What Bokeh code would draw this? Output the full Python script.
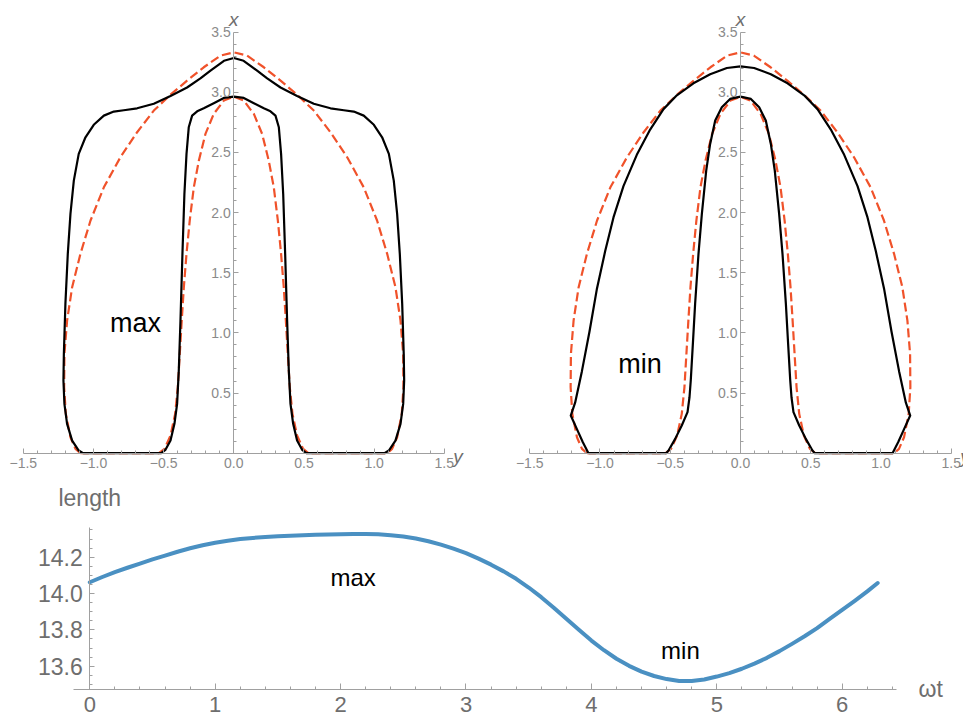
import numpy as np
from bokeh.plotting import figure
from bokeh.models import LinearAxis, FixedTicker, CustomJSTickFormatter, Range1d, Label
from bokeh.layouts import column, row
from bokeh.embed import file_html
from bokeh.resources import INLINE

# ---------------- data (right halves of the symmetric profiles, top -> bottom) ----------------
# reference shape (red dashed), shown in both panels
ref_outer_y = [0.0, 0.095, 0.214, 0.333, 0.451, 0.570, 0.689, 0.808, 0.926, 1.021, 1.093, 1.152, 1.188, 1.207, 1.209, 1.197, 1.164, 1.128, 1.093]
ref_outer_x = [3.332, 3.305, 3.208, 3.097, 2.980, 2.848, 2.668, 2.460, 2.210, 1.934, 1.657, 1.380, 1.102, 0.825, 0.548, 0.327, 0.133, 0.036, 0.0]
ref_inner_y = [0.0, 0.071, 0.143, 0.202, 0.249, 0.285, 0.314, 0.337, 0.356, 0.371, 0.385, 0.399, 0.418, 0.451, 0.494, 0.534]
ref_inner_x = [2.964, 2.931, 2.820, 2.654, 2.432, 2.210, 1.934, 1.657, 1.380, 1.102, 0.825, 0.548, 0.327, 0.147, 0.036, 0.0]

# shape at maximum length
max_outer_y = [0.0, 0.070, 0.166, 0.238, 0.333, 0.451, 0.570, 0.689, 0.784, 0.855, 0.926, 0.998, 1.057, 1.105, 1.140, 1.164, 1.183, 1.200, 1.211, 1.214, 1.207, 1.188, 1.152, 1.105, 1.074]
max_outer_x = [3.285, 3.262, 3.180, 3.115, 3.040, 2.970, 2.905, 2.867, 2.851, 2.840, 2.806, 2.730, 2.626, 2.488, 2.266, 1.989, 1.657, 1.241, 0.825, 0.604, 0.410, 0.244, 0.105, 0.022, 0.0]
max_inner_y = [0.0, 0.071, 0.143, 0.214, 0.261, 0.297, 0.321, 0.337, 0.352, 0.366, 0.380, 0.392, 0.404, 0.423, 0.451, 0.487, 0.518]
max_inner_x = [2.964, 2.953, 2.909, 2.867, 2.842, 2.806, 2.709, 2.488, 2.155, 1.657, 1.102, 0.687, 0.410, 0.244, 0.105, 0.028, 0.0]

# shape at minimum length
min_outer_y = [0.0, 0.097, 0.216, 0.335, 0.453, 0.548, 0.643, 0.738, 0.833, 0.904, 0.963, 1.023, 1.075, 1.129, 1.177, 1.208, 1.165, 1.122, 1.082]
min_outer_x = [3.216, 3.202, 3.150, 3.075, 2.975, 2.860, 2.690, 2.480, 2.220, 1.960, 1.680, 1.360, 1.010, 0.680, 0.420, 0.313, 0.202, 0.091, 0.0]
min_inner_y = [0.0, 0.074, 0.133, 0.180, 0.216, 0.244, 0.275, 0.299, 0.323, 0.339, 0.354, 0.363, 0.377, 0.418, 0.465, 0.512, 0.529]
min_inner_x = [2.964, 2.945, 2.875, 2.765, 2.571, 2.349, 1.989, 1.657, 1.241, 0.909, 0.604, 0.465, 0.341, 0.230, 0.119, 0.022, 0.0]

# length over one period
wt = [0.0, 0.1, 0.2, 0.3, 0.4, 0.5, 0.6, 0.7, 0.8, 0.9, 1.0, 1.1, 1.2, 1.3, 1.4, 1.5, 1.6, 1.7, 1.8, 1.9,
      2.0, 2.1, 2.2, 2.3, 2.4, 2.5, 2.6, 2.7, 2.8, 2.9, 3.0, 3.1, 3.2, 3.3, 3.4, 3.5, 3.6, 3.7, 3.8, 3.9,
      4.0, 4.1, 4.2, 4.3, 4.4, 4.5, 4.6, 4.7, 4.8, 4.9, 5.0, 5.1, 5.2, 5.3, 5.4, 5.5, 5.6, 5.7, 5.8, 5.9,
      6.0, 6.1, 6.2, 6.283]
length = [14.062, 14.091, 14.118, 14.142, 14.165, 14.188, 14.209, 14.230, 14.249, 14.266,
          14.280, 14.291, 14.300, 14.306, 14.311, 14.315, 14.318, 14.321, 14.323, 14.325,
          14.327, 14.328, 14.328, 14.326, 14.321, 14.314, 14.303, 14.288, 14.269, 14.247,
          14.222, 14.192, 14.159, 14.122, 14.081, 14.033, 13.980, 13.922, 13.861, 13.800,
          13.741, 13.688, 13.641, 13.602, 13.570, 13.546, 13.529, 13.518, 13.518, 13.527,
          13.543, 13.562, 13.586, 13.614, 13.646, 13.683, 13.723, 13.765, 13.810, 13.860,
          13.910, 13.960, 14.012, 14.058]

# tick labels
shape_xticks = [-1.5, -1.0, -0.5, 0.0, 0.5, 1.0, 1.5]
shape_yticks = [0.5, 1.0, 1.5, 2.0, 2.5, 3.0, 3.5]
len_xticks = [0, 1, 2, 3, 4, 5, 6]
len_yticks = [13.6, 13.8, 14.0, 14.2]

# ---------------- styling ----------------
FONT = "Liberation Sans"
AXIS_GRAY = "#a0a0a0"
TICK_GRAY = "#8a8a8a"
LABEL_GRAY = "#6e6e6e"
RED = "#f0522a"
BLUE = "#4a90c2"

TOP_H = 476
BOT_H = 723 - TOP_H


def closed_contour(oy, ox, iy, ix):
    oy, ox, iy, ix = map(np.asarray, (oy, ox, iy, ix))
    outer_y = np.concatenate([-oy[::-1], oy[1:]])
    outer_x = np.concatenate([ox[::-1], ox[1:]])
    inner_y = np.concatenate([-iy[::-1], iy[1:]])
    inner_x = np.concatenate([ix[::-1], ix[1:]])
    ys = np.concatenate([outer_y, inner_y[::-1], outer_y[:1]])
    xs = np.concatenate([outer_x, inner_x[::-1], outer_x[:1]])
    return ys, xs


minor_x = [round(v, 2) for v in np.arange(-1.5, 1.51, 0.1) if abs(v * 2 - round(v * 2)) > 1e-6]
minor_y = [round(v, 2) for v in np.arange(0.1, 3.51, 0.1) if abs(v * 2 - round(v * 2)) > 1e-6]

fmt_signed = CustomJSTickFormatter(code="""
return (tick < -1e-9 ? '\\u2212' : '') + Math.abs(tick).toFixed(1);
""")


def bare_figure(width, height, xr, yr):
    p = figure(width=width, height=height, output_backend="svg", toolbar_location=None,
               x_range=Range1d(*xr), y_range=Range1d(*yr),
               x_axis_location=None, y_axis_location=None,
               min_border_left=0, min_border_right=0, min_border_top=0, min_border_bottom=0)
    p.grid.visible = False
    p.outline_line_color = None
    p.background_fill_color = "white"
    p.border_fill_color = "white"
    return p


def style_axis(ax, tick_in, minor_in, color, size):
    ax.axis_line_color = AXIS_GRAY
    ax.major_tick_line_color = AXIS_GRAY
    ax.minor_tick_line_color = AXIS_GRAY
    ax.major_tick_in = tick_in
    ax.major_tick_out = 0
    ax.minor_tick_in = minor_in
    ax.minor_tick_out = 0
    ax.major_label_text_color = color
    ax.major_label_text_font = FONT
    ax.major_label_text_font_size = size


def shape_panel(width, xr, oy, ox, iy, ix, tag, tag_pos):
    # frame covers the whole canvas; ranges chosen so that -1.5..1.5 / 0..3.5 sit as in the original
    p = bare_figure(width, TOP_H, xr, (-(TOP_H - 452.7) / 120.3, 3.763))

    xa = LinearAxis(fixed_location=0, bounds=(-1.5, 1.5),
                    ticker=FixedTicker(ticks=shape_xticks, minor_ticks=minor_x),
                    formatter=fmt_signed)
    ya = LinearAxis(fixed_location=0, bounds=(0, 3.5),
                    ticker=FixedTicker(ticks=shape_yticks, minor_ticks=minor_y),
                    formatter=fmt_signed)
    style_axis(xa, 5, 3, TICK_GRAY, "14px")
    style_axis(ya, 5, 3, TICK_GRAY, "14px")
    xa.major_label_standoff = 5
    ya.major_label_standoff = 3
    p.add_layout(xa, "below")
    p.add_layout(ya, "left")

    ry, rx = closed_contour(ref_outer_y, ref_outer_x, ref_inner_y, ref_inner_x)
    p.line(ry, rx, line_color=RED, line_width=2.2, line_dash="9 4")
    sy, sx = closed_contour(oy, ox, iy, ix)
    p.line(sy, sx, line_color="black", line_width=2.2, line_join="round")

    p.add_layout(Label(x=0, y=3.5, text="x", text_font=FONT, text_font_style="italic",
                       text_font_size="19px", text_color=LABEL_GRAY, text_align="center",
                       text_baseline="alphabetic", y_offset=13))
    p.add_layout(Label(x=1.5, y=0, text="y", text_font=FONT, text_font_style="italic",
                       text_font_size="19px", text_color=LABEL_GRAY, text_align="left",
                       text_baseline="alphabetic", x_offset=9, y_offset=-3))
    p.add_layout(Label(x=tag_pos[0], y=tag_pos[1], text=tag, text_font=FONT,
                       text_font_size="27px", text_color="black", text_align="center",
                       text_baseline="middle"))
    return p


p1 = shape_panel(480, (-1.6625, 1.758), max_outer_y, max_outer_x, max_inner_y, max_inner_x,
                 "max", (-0.70, 1.08))
p2 = shape_panel(483, (-1.8505, 1.5872), min_outer_y, min_outer_x, min_inner_y, min_inner_x,
                 "min", (-0.715, 0.74))

# ---------------- length panel ----------------
y_top = 14.2 + (556.7 - TOP_H) / 181.67
p3 = bare_figure(963, BOT_H, (-0.7121, 6.9673), (13.2846, y_top))

len_minor_x = [round(v, 1) for v in np.arange(0.2, 6.45, 0.2) if abs(v - round(v)) > 1e-6]
len_minor_y = [round(v, 2) for v in np.arange(13.5, 14.36, 0.05) if abs(v * 5 - round(v * 5)) > 1e-6]

bx = LinearAxis(fixed_location=13.472, bounds=(-0.128, 6.433),
                ticker=FixedTicker(ticks=len_xticks, minor_ticks=len_minor_x),
                formatter=CustomJSTickFormatter(code="return tick.toFixed(0);"))
by = LinearAxis(fixed_location=0, bounds=(13.472, 14.365),
                ticker=FixedTicker(ticks=len_yticks, minor_ticks=len_minor_y),
                formatter=CustomJSTickFormatter(code="return tick.toFixed(1);"))
style_axis(bx, 6, 3, LABEL_GRAY, "22px")
style_axis(by, 5, 3, LABEL_GRAY, "23px")
bx.major_label_standoff = 8
by.major_label_standoff = 7
p3.add_layout(bx, "below")
p3.add_layout(by, "left")

p3.line(wt, length, line_color=BLUE, line_width=4, line_cap="round", line_join="round")

p3.add_layout(Label(x=0, y=14.365, text="length", text_font=FONT, text_font_size="23px",
                    text_color=LABEL_GRAY, text_align="center", text_baseline="alphabetic",
                    y_offset=29))
p3.add_layout(Label(x=6.433, y=13.472, text="ωt", text_font=FONT, text_font_size="23px",
                    text_color=LABEL_GRAY, text_align="left", text_baseline="middle",
                    x_offset=22))
p3.add_layout(Label(x=2.10, y=14.09, text="max", text_font=FONT, text_font_size="24px",
                    text_color="black", text_align="center", text_baseline="middle"))
p3.add_layout(Label(x=4.71, y=13.686, text="min", text_font=FONT, text_font_size="24px",
                    text_color="black", text_align="center", text_baseline="middle"))

layout = column(row(p1, p2), p3)
open("out.html", "w").write(file_html(layout, INLINE))
